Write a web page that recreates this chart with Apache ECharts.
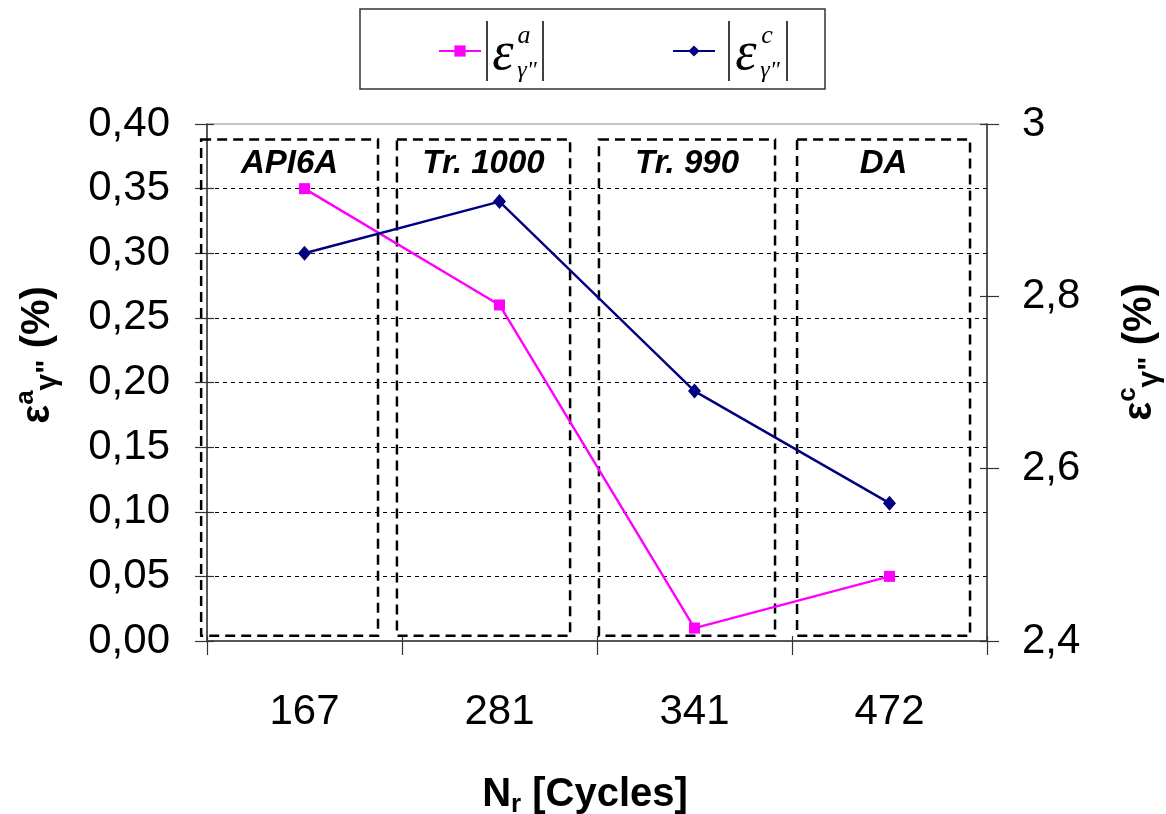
<!DOCTYPE html>
<html><head><meta charset="utf-8">
<script src="https://cdn.jsdelivr.net/npm/echarts@6/dist/echarts.min.js"></script>
<style>html,body{margin:0;padding:0;background:#fff}#c{width:1166px;height:814px}</style>
</head><body><div id="c"></div>
<script>
// ---- data ----
const categories = ['167', '281', '341', '472'];
const epsA = [0.35, 0.26, 0.01, 0.05];          // |eps^a_γ"| (left axis, %)
const epsC = [2.85, 2.91, 2.69, 2.56];          // |eps^c_γ"| (right axis, %)
const regionNames = ['API6A', 'Tr. 1000', 'Tr. 990', 'DA'];
const regionStart = [-0.03, 0.974, 2.01, 3.026]; // in category-band units
const regionEnd = [0.877, 1.862, 2.913, 3.913];
const regionLow = [0.004, 0.004, 0.004, 0.004];  // left-axis units
const regionHigh = [0.388, 0.388, 0.388, 0.388];

const SANS = '"Liberation Sans", Arial, sans-serif';
const SERIF = '"Liberation Serif", "Times New Roman", serif';

const chart = echarts.init(document.getElementById('c'), null, {renderer: 'canvas'});

const nameRich = {
  e: {fontFamily: SANS, fontWeight: 'bold', fontSize: 40, lineHeight: 50, verticalAlign: 'middle', fill: '#000'},
  s: {fontFamily: SANS, fontWeight: 'bold', fontSize: 26, lineHeight: 26, verticalAlign: 'top', fill: '#000'},
  b: {fontFamily: SANS, fontWeight: 'bold', fontSize: 30, lineHeight: 34, verticalAlign: 'bottom', fill: '#000'},
  n: {fontFamily: SANS, fontWeight: 'bold', fontSize: 40, lineHeight: 50, verticalAlign: 'middle', fill: '#000'}
};

const tickStyle = {color: '#333', width: 1.2};

function mathText(x, y, txt, size) {
  return {type: 'text', x: x, y: y,
    style: {text: txt, fontFamily: SERIF, fontStyle: 'italic', fontSize: size,
      align: 'center', verticalAlign: 'middle', fill: '#000'}};
}

const option = {
  animation: false,
  backgroundColor: '#fff',
  grid: {left: 207, right: 179, top: 124, bottom: 173, show: true, borderColor: '#888', borderWidth: 1, backgroundColor: 'transparent'},
  legend: {
    left: 360, top: 9,
    padding: [35, 35, 31, 78],
    itemWidth: 42, itemHeight: 14, itemGap: 116,
    borderColor: '#333', borderWidth: 1.5,
    data: ['a', 'c'],
    formatter: function () { return '{w| }'; },
    textStyle: {rich: {w: {width: 70, height: 14, lineHeight: 14}}}
  },
  xAxis: [
    {
      type: 'category', data: categories, boundaryGap: true,
      axisLine: {lineStyle: {color: '#333', width: 1.5}},
      axisTick: {show: true, interval: 0, length: 14, lineStyle: tickStyle},
      axisLabel: {fontFamily: SANS, fontSize: 42, color: '#000', margin: 50},
      splitLine: {show: false}
    },
    {type: 'value', min: 0, max: 4, show: false},
    {
      type: 'category', data: categories, boundaryGap: true, position: 'bottom',
      axisLine: {show: false},
      axisTick: {show: true, inside: true, interval: 0, length: 5, lineStyle: tickStyle},
      axisLabel: {show: false}, splitLine: {show: false}
    }
  ],
  yAxis: [
    {
      type: 'value', min: 0, max: 0.4, interval: 0.05,
      axisLine: {show: true, lineStyle: {color: '#333', width: 1.5}},
      axisTick: {show: true, length: 12, lineStyle: tickStyle},
      axisLabel: {fontFamily: SANS, fontSize: 42, color: '#000', margin: 37,
        formatter: v => v.toFixed(2).replace('.', ',')},
      splitLine: {show: true, showMinLine: false, showMaxLine: false, lineStyle: {color: '#000', width: 1, type: [4, 4]}}
    },
    {
      type: 'value', min: 2.4, max: 3, interval: 0.2, position: 'right',
      axisLine: {show: true, lineStyle: {color: '#333', width: 1.5}},
      axisTick: {show: true, length: 12, lineStyle: tickStyle},
      axisLabel: {fontFamily: SANS, fontSize: 42, color: '#000', margin: 35,
        formatter: v => String(+v.toFixed(1)).replace('.', ',')},
      splitLine: {show: false}
    },
    {
      type: 'value', min: 0, max: 0.4, interval: 0.05, position: 'left',
      axisLine: {show: false}, axisLabel: {show: false}, splitLine: {show: false},
      axisTick: {show: true, inside: true, length: 7, lineStyle: tickStyle}
    },
    {
      type: 'value', min: 2.4, max: 3, interval: 0.2, position: 'right',
      axisLine: {show: false}, axisLabel: {show: false}, splitLine: {show: false},
      axisTick: {show: true, inside: true, length: 7, lineStyle: tickStyle}
    }
  ],
  series: [
    {
      type: 'custom', xAxisIndex: 1, yAxisIndex: 0, clip: false, z: 1,
      data: regionNames.map((n, i) => [regionStart[i], regionEnd[i], regionLow[i], regionHigh[i]]),
      renderItem: function (params, api) {
        const i = params.dataIndex;
        const p0 = api.coord([api.value(0), api.value(3)]);
        const p1 = api.coord([api.value(1), api.value(2)]);
        return {type: 'group', children: [
          {type: 'rect', shape: {x: p0[0], y: p0[1], width: p1[0] - p0[0], height: p1[1] - p0[1]},
            style: {fill: null, stroke: '#000', lineWidth: 2.5, lineDash: [10, 6]}},
          {type: 'text', style: {text: regionNames[i], x: (p0[0] + p1[0]) / 2, y: p0[1] + 24,
            align: 'center', verticalAlign: 'middle', font: 'italic bold 33px ' + SANS, fill: '#000'}}
        ]};
      }
    },
    {
      name: 'a', type: 'line', xAxisIndex: 0, yAxisIndex: 0, data: epsA, z: 3,
      symbol: 'rect', symbolSize: 11,
      lineStyle: {color: '#FF00FF', width: 2.4}, itemStyle: {color: '#FF00FF'}
    },
    {
      name: 'c', type: 'line', xAxisIndex: 0, yAxisIndex: 1, data: epsC, z: 4,
      symbol: 'diamond', symbolSize: [13, 15],
      lineStyle: {color: '#000080', width: 2.4}, itemStyle: {color: '#000080'}
    }
  ],
  graphic: [
    // legend math labels
    {type: 'line', shape: {x1: 487, y1: 21, x2: 487, y2: 81}, style: {stroke: '#000', lineWidth: 1.5}},
    {type: 'line', shape: {x1: 543, y1: 21, x2: 543, y2: 81}, style: {stroke: '#000', lineWidth: 1.5}},
    mathText(503, 55, 'ε', 54),
    mathText(524, 36, 'a', 26),
    mathText(527, 71, 'γ"', 24),
    {type: 'line', shape: {x1: 729, y1: 21, x2: 729, y2: 81}, style: {stroke: '#000', lineWidth: 1.5}},
    {type: 'line', shape: {x1: 787, y1: 21, x2: 787, y2: 81}, style: {stroke: '#000', lineWidth: 1.5}},
    mathText(746, 55, 'ε', 54),
    mathText(767, 36, 'c', 26),
    mathText(770, 71, 'γ"', 24),
    // axis names
    {type: 'text', x: 38, y: 355, rotation: Math.PI / 2,
      style: {text: '{e|ε}{s|a}{b|γ"}{n| (%)}', rich: nameRich, align: 'center', verticalAlign: 'middle'}},
    {type: 'text', x: 1140, y: 352, rotation: Math.PI / 2,
      style: {text: '{e|ε}{s|c}{b|γ"}{n| (%)}', rich: nameRich, align: 'center', verticalAlign: 'middle'}},
    {type: 'text', x: 585, y: 795,
      style: {text: '{n|N}{r|r}{n| [Cycles]}', align: 'center', verticalAlign: 'middle',
        rich: {
          n: {fontFamily: SANS, fontWeight: 'bold', fontSize: 40, lineHeight: 46, verticalAlign: 'middle', fill: '#000'},
          r: {fontFamily: SANS, fontWeight: 'bold', fontSize: 26, lineHeight: 26, verticalAlign: 'bottom', fill: '#000'}
        }}}
  ]
};
chart.setOption(option);
</script>
</body></html>
